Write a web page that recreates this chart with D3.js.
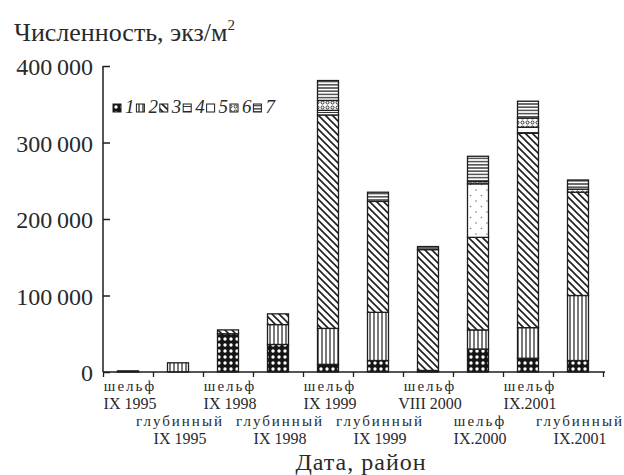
<!DOCTYPE html>
<html>
<head>
<meta charset="utf-8">
<script src="https://cdn.jsdelivr.net/npm/d3@7"></script>
<style>
  html, body { margin: 0; padding: 0; background: #fff; }
  svg { display: block; }
  text { font-family: "Liberation Serif", "DejaVu Serif", serif; fill: #2a2a2a; }
</style>
</head>
<body>
<svg id="chart" width="624" height="475"></svg>
<script>
// Sampling dates / areas (shelf and deep-water stations)
const categories = [
  "шельф|IX 1995", "глубинный|IX 1995",
  "шельф|IX 1998", "глубинный|IX 1998",
  "шельф|IX 1999", "глубинный|IX 1999",
  "шельф|VIII 2000", "шельф|IX.2000",
  "шельф|IX.2001", "глубинный|IX.2001"
];

// Abundance of each group (ind./m²), stacked bottom to top: groups 1..7
const group1 = [0,    0,     50000, 36000, 10000, 15000, 2000,   30000,  18000,  15000];
const group2 = [1500, 12000, 0,     26000, 47000, 63000, 0,      25000,  40000,  85000];
const group3 = [0,    0,     5000,  14000, 279000, 145000, 158000, 121000, 254000, 135000];
const group4 = [0,    0,     0,     0,     6000,  0,     0,      0,      8000,   0];
const group5 = [0,    0,     0,     0,     0,     0,     0,      70000,  0,      0];
const group6 = [0,    0,     0,     0,     13000, 0,     0,      3000,   12000,  4000];
const group7 = [0,    0,     0,     0,     26000, 12000, 4000,   33000,  22000,  12000];

const groupNames = ["1", "2", "3", "4", "5", "6", "7"];
const yTickValues = [0, 100000, 200000, 300000, 400000];
const yTickLabels = ["0", "100\u2009000", "200\u2009000", "300\u2009000", "400\u2009000"];

const series = [group1, group2, group3, group4, group5, group6, group7];
const rows = categories.map((c, i) => {
  const r = { cat: c };
  groupNames.forEach((g, k) => { r[g] = series[k][i]; });
  return r;
});

const svg = d3.select("#chart");
const ink = "#1e1e1e";

// ---- hatch patterns for the seven groups ----
const defs = svg.append("defs");
function pat(id, w, h, draw) {
  const p = defs.append("pattern").attr("id", id)
    .attr("patternUnits", "userSpaceOnUse").attr("width", w).attr("height", h);
  p.append("rect").attr("width", w).attr("height", h).attr("fill", "#fff");
  draw(p);
}
pat("g1", 6, 6, p => {
  p.select("rect").attr("fill", "#151515");
  p.append("circle").attr("cx", 3).attr("cy", 3).attr("r", 1.7).attr("fill", "#fff");
});
pat("g2", 4, 4, p => {
  p.append("line").attr("x1", 2).attr("x2", 2).attr("y1", 0).attr("y2", 4)
    .attr("stroke", ink).attr("stroke-width", 1.2);
});
pat("g3", 7, 7, p => {
  p.append("path").attr("d", "M0,0L7,7M-2,5L2,9M5,-2L9,2")
    .attr("stroke", ink).attr("stroke-width", 1.6);
});
pat("g4", 6, 5, p => {
  p.append("line").attr("x1", 0).attr("x2", 6).attr("y1", 2.5).attr("y2", 2.5)
    .attr("stroke", ink).attr("stroke-width", 0.9);
});
pat("g5", 11, 11, p => {
  p.append("circle").attr("cx", 3).attr("cy", 3).attr("r", 0.8).attr("fill", "#777");
  p.append("circle").attr("cx", 8.5).attr("cy", 8.5).attr("r", 0.8).attr("fill", "#777");
});
pat("g6", 5, 5, p => {
  p.append("circle").attr("cx", 2.5).attr("cy", 2.5).attr("r", 1.5)
    .attr("fill", "none").attr("stroke", ink).attr("stroke-width", 0.9);
});
pat("g7", 4, 3.2, p => {
  p.append("line").attr("x1", 0).attr("x2", 4).attr("y1", 1.6).attr("y2", 1.6)
    .attr("stroke", ink).attr("stroke-width", 1.2);
});

// ---- scales ----
const x = d3.scaleBand().domain(categories).range([103, 603])
  .paddingInner(0.58).paddingOuter(0.29);
const y = d3.scaleLinear().domain([0, 400000]).range([372, 66]);

const stack = d3.stack().keys(groupNames);
const layers = stack(rows);

// ---- bars ----
const gBars = svg.append("g");
layers.forEach((layer, k) => {
  gBars.append("g")
    .selectAll("rect")
    .data(layer.filter(d => d[1] - d[0] > 0))
    .join("rect")
    .attr("x", d => x(d.data.cat))
    .attr("width", x.bandwidth())
    .attr("y", d => y(d[1]))
    .attr("height", d => y(d[0]) - y(d[1]))
    .attr("fill", `url(#g${k + 1})`)
    .attr("stroke", ink)
    .attr("stroke-width", 1.3);
});

// ---- axes ----
const yAxis = d3.axisRight(y).tickValues(yTickValues).tickSize(7).tickFormat("");
const gy = svg.append("g").attr("transform", "translate(103,0)").call(yAxis);
gy.select(".domain").attr("stroke", ink).attr("stroke-width", 1.5).attr("d", `M0,${y(400000)}V${y(0)}`);
gy.selectAll(".tick line").attr("stroke", ink).attr("stroke-width", 1.5);

svg.append("g").selectAll("text")
  .data(yTickValues)
  .join("text")
  .attr("x", 93)
  .attr("y", d => y(d) + 9)
  .attr("text-anchor", "end")
  .attr("font-size", 24)
  .text((d, i) => yTickLabels[i]);

// x axis: ticks on band boundaries
const xb = d3.scaleLinear().domain([0, categories.length]).range(x.range());
const xAxis = d3.axisBottom(xb).tickValues(d3.range(categories.length + 1))
  .tickSize(5).tickFormat("");
const gx = svg.append("g").attr("transform", `translate(0,${y(0)})`).call(xAxis);
gx.select(".domain").attr("stroke", ink).attr("stroke-width", 1.5).attr("d", `M${x.range()[0]},0H${x.range()[1] + 2}`);
gx.selectAll(".tick line").attr("stroke", ink).attr("stroke-width", 1.3);

// category labels (area over date) in two staggered rows
const gLab = svg.append("g");
categories.forEach((c, i) => {
  const [area, date] = c.split("|");
  const cx = x(c) + x.bandwidth() / 2 + 2;
  const y0 = i % 2 === 0 ? 391 : 426;
  gLab.append("text").attr("x", cx).attr("y", y0).attr("text-anchor", "middle")
    .attr("font-size", 15).attr("letter-spacing", 2).text(area);
  gLab.append("text").attr("x", cx).attr("y", y0 + 18).attr("text-anchor", "middle")
    .attr("font-size", 16).text(date);
});

svg.append("text").attr("x", 361).attr("y", 470).attr("text-anchor", "middle")
  .attr("font-size", 24).attr("letter-spacing", 1).text("Дата, район");

// y title
const yt = svg.append("text").attr("x", 14).attr("y", 41).attr("font-size", 26);
yt.append("tspan").text("Численность, экз/м");
yt.append("tspan").attr("font-size", 15).attr("dy", -11).text("2");

// ---- legend ----
const lg = svg.append("g").attr("transform", "translate(113,104)");
groupNames.forEach((g, k) => {
  const gx0 = k * 23.4;
  lg.append("rect").attr("x", gx0).attr("y", 0).attr("width", 8).attr("height", 8)
    .attr("fill", `url(#g${k + 1})`).attr("stroke", ink).attr("stroke-width", 1);
  lg.append("text").attr("x", gx0 + 12).attr("y", 9).attr("font-size", 19)
    .attr("font-style", "italic").text(g);
});
</script>
</body>
</html>
